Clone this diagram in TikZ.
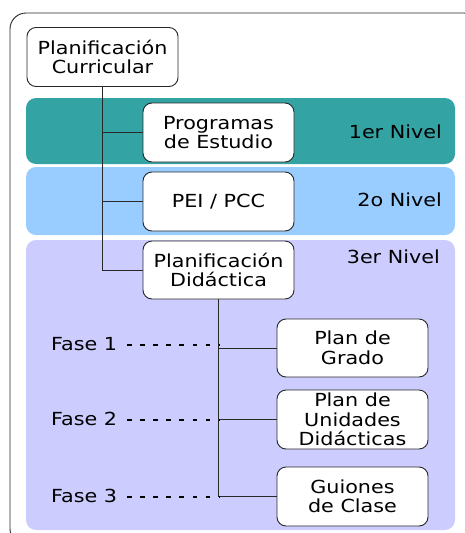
\documentclass[tikz,border=0pt]{standalone}
\usepackage{fontspec}
\newfontfamily\dfont[FakeStretch=1.15]{DejaVu Sans}
\definecolor{teal1}{RGB}{51,163,163}
\definecolor{blue2}{RGB}{153,204,255}
\definecolor{lav3}{RGB}{204,204,255}
\definecolor{edge}{RGB}{40,40,40}
\begin{document}
\begin{tikzpicture}[x=1pt,y=-1pt,
  txt/.style={font=\dfont\fontsize{18}{19.5}\selectfont, text=black},
  box/.style={txt, draw=edge, line width=0.9pt, fill=white, rounded corners=9pt,
    minimum width=151pt, minimum height=59pt, inner sep=0pt, align=center},
  band/.style={rounded corners=10pt},
  conn/.style={draw=edge, line width=0.9pt},
  phase/.style={draw=black, line width=1.1pt, dash pattern=on 4.5pt off 8.6pt},
  lvl/.style={txt, anchor=east, inner sep=0pt},
  fase/.style={txt, anchor=west, inner sep=0pt}]
\useasboundingbox (0,0) rectangle (465,533);
\begin{scope}
\clip (0,0) rectangle (465,533);
\draw[edge, line width=0.9pt, rounded corners=16pt] (10,13) rectangle (480,545);
\end{scope}
% bands
\fill[teal1, band] (26,98) rectangle (455,164);
\fill[blue2, band] (26,167) rectangle (455,235);
\fill[lav3, band] (26,240) rectangle (455,530);
% level labels
\node[lvl] (l1) at (442,132) {1er Nivel};
\node[lvl] (l2) at (442,200) {2o Nivel};
\node[lvl] (l3) at (440,257) {3er Nivel};
% boxes
\node[box] (pc) at (102.5,57) {Planificación\\Curricular};
\node[box] (pe) at (218.5,132.5) {Programas\\de Estudio};
\node[box] (pei) at (218.5,201.5) {PEI / PCC};
\node[box, minimum height=58pt] (pd) at (218.5,270) {Planificación\\Didáctica};
\node[box, minimum height=58pt] (pg) at (352.5,348) {Plan de\\Grado};
\node[box] (pu) at (352.5,419.5) {Plan de\\Unidades\\Didácticas};
\node[box] (gc) at (352.5,496.5) {Guiones\\de Clase};
% connectors
\draw[conn] (pc.south) |- (pd.west);
\draw[conn] (pc.south |- pe.west) -- (pe.west);
\draw[conn] (pc.south |- pei.west) -- (pei.west);
\draw[conn] (pd.south) |- (gc.west);
\draw[conn] (pd.south |- pg.west) -- (pg.west);
\draw[conn] (pd.south |- pu.west) -- (pu.west);
% phases
\node[fase] (f1) at (51,344) {Fase 1};
\node[fase] (f2) at (51,419) {Fase 2};
\node[fase] (f3) at (51,496) {Fase 3};
\coordinate (d1) at (220,345);
\coordinate (d2) at (220,420);
\coordinate (d3) at (220,497);
\draw[phase] (d1 -| 127,0) -- (d1);
\draw[phase] (d2 -| 127,0) -- (d2);
\draw[phase] (d3 -| 127,0) -- (d3);
\end{tikzpicture}
\end{document}
